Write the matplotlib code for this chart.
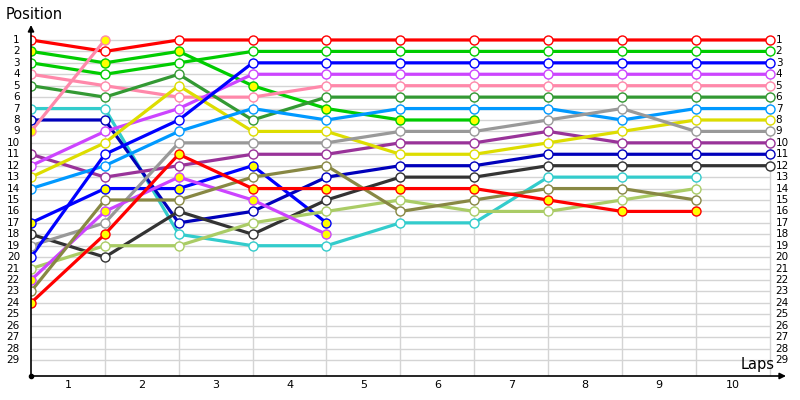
import matplotlib
matplotlib.use("Agg")
import matplotlib.pyplot as plt

# lap 0 is the grid (start) column, laps 1..10 follow
laps = list(range(11))
lap_labels = [str(i) for i in range(1, 11)]
grid_positions = list(range(1, 30))

# positions per lap (series stop when the driver drops out)
red = [1, 2, 1, 1, 1, 1, 1, 1, 1, 1, 1]
green_pit = [2, 3, 2, 5, 7, 8, 8]
green = [3, 4, 3, 2, 2, 2, 2, 2, 2, 2, 2]
pink = [4, 5, 6, 6, 5, 5, 5, 5, 5, 5, 5]
dark_green = [5, 6, 4, 8, 6, 6, 6, 6, 6, 6, 6]
cyan = [7, 7, 18, 19, 19, 17, 17, 13, 13, 13]
dark_blue = [8, 8, 17, 16, 13, 12, 12, 11, 11, 11, 11]
pink_pit = [9, 1]
purple = [11, 13, 12, 11, 11, 10, 10, 9, 10, 10, 10]
violet = [12, 9, 7, 4, 4, 4, 4, 4, 4, 4, 4]
yellow = [13, 10, 5, 9, 9, 11, 11, 10, 9, 8, 8]
light_blue = [14, 12, 9, 7, 8, 7, 7, 7, 8, 7, 7]
blue_pit = [17, 14, 14, 12, 17]
black = [18, 20, 16, 18, 15, 13, 13, 12, 12, 12, 12]
gray = [19, 17, 10, 10, 10, 9, 9, 8, 7, 9, 9]
blue = [20, 11, 8, 3, 3, 3, 3, 3, 3, 3, 3]
light_green = [21, 19, 19, 17, 16, 15, 16, 16, 15, 14]
violet_pit = [22, 16, 13, 15, 18]
olive = [23, 15, 15, 13, 12, 16, 15, 14, 14, 15]
red_pit = [24, 18, 11, 14, 14, 14, 14, 15, 16, 16]

# (values, colour, yellow markers)
series = [
    (red, "#ff0000", False),
    (green_pit, "#00cc00", True),
    (green, "#00cc00", False),
    (pink, "#ff88aa", False),
    (dark_green, "#339933", False),
    (cyan, "#33cccc", False),
    (dark_blue, "#0000bb", False),
    (pink_pit, "#ff88aa", True),
    (purple, "#993399", False),
    (violet, "#cc44ff", False),
    (yellow, "#dddd00", False),
    (light_blue, "#0099ff", False),
    (blue_pit, "#0000ff", True),
    (black, "#333333", False),
    (gray, "#999999", False),
    (blue, "#0000ff", False),
    (light_green, "#aacc66", False),
    (violet_pit, "#cc44ff", True),
    (olive, "#888844", False),
    (red_pit, "#ff0000", True),
]

fig = plt.figure(figsize=(8, 4), dpi=100)
ax = fig.add_axes([0.03875, 0.06, 0.94375, 0.8775])
x_max, y_bottom, y_top = 10.22, 30.4, -0.31
ax.set_xlim(0, x_max)
ax.set_ylim(y_bottom, y_top)
ax.axis("off")

# grid
for p in grid_positions:
    ax.plot([0, 10], [p, p], color="#d4d4d4", lw=1, zorder=1)
for k in laps[1:]:
    ax.plot([k, k], [1, y_bottom], color="#d4d4d4", lw=1, zorder=1)

# lines and markers
for values, color, pit in series:
    ax.plot(laps[:len(values)], values, color=color, lw=2.3, zorder=3,
            solid_capstyle="round")
    ax.plot(laps[:len(values)], values, ls="none", marker="o", ms=6.5,
            mfc="#ffff00" if pit else "white", mec=color, mew=1, zorder=4)

# axes with arrows
ax.annotate("", xy=(x_max, y_bottom), xytext=(0, y_bottom), annotation_clip=False,
            arrowprops=dict(arrowstyle="-|>", color="black", lw=1.2,
                            mutation_scale=9, shrinkA=0, shrinkB=0), zorder=5)
ax.annotate("", xy=(0, y_top), xytext=(0, y_bottom), annotation_clip=False,
            arrowprops=dict(arrowstyle="-|>", color="black", lw=1.2,
                            mutation_scale=9, shrinkA=0, shrinkB=0), zorder=5)
ax.plot([0], [y_bottom], marker="o", ms=3, color="black", clip_on=False, zorder=6)

# tick labels
for p in grid_positions:
    ax.text(-0.15, p, str(p), ha="right", va="center", fontsize=7.5)
    ax.text(10.08, p, str(p), ha="left", va="center", fontsize=7.5)
for k, lab in zip(laps[1:], lap_labels):
    ax.text(k - 0.5, 31.2, lab, ha="center", va="center", fontsize=8)

ax.text(-0.35, -1.27, "Position", ha="left", va="center", fontsize=10.5)
ax.text(9.84, 29.4, "Laps", ha="center", va="center", fontsize=10.5)

plt.savefig("out.png", dpi=100, facecolor="white")
plt.close()
